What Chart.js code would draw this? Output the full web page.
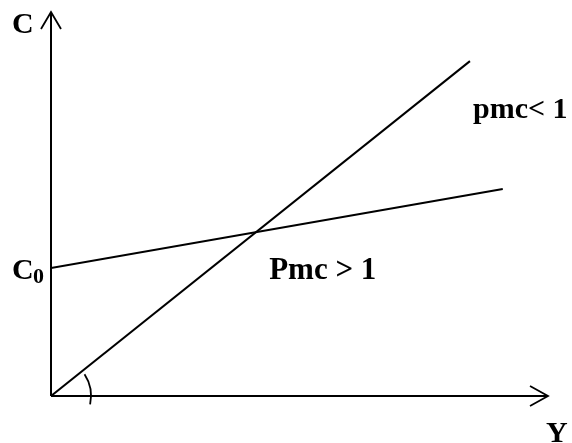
<!DOCTYPE html>
<html>
<head>
<meta charset="utf-8">
<script src="https://cdn.jsdelivr.net/npm/chart.js@4"></script>
<style>
  html, body { margin: 0; padding: 0; background: #fff; }
  #wrap { width: 572px; height: 443px; }
</style>
</head>
<body>
<div id="wrap"><canvas id="grafico"></canvas></div>
<script>
// Y values (income) and C values (consumption)
let rendaReta45 = [0, 8.43];
let consumoReta45 = [0, 8.72];
let rendaConsumo = [0, 9.09];
let consumoLinha = [3.33, 5.39];

// Texts
let rotuloEixoY = "C";
let rotuloEixoX = "Y";
let rotuloC0 = "C";
let rotuloC0Sub = "0";
let rotuloMenor = "pmc< 1";
let rotuloMaior = "Pmc > 1";

function montarPontos(xs, ys) {
  return xs.map((x, i) => ({ x: x, y: ys[i] }));
}

// plugin to draw the axes with arrows, the angle arc and the labels
const eixosSetas = {
  id: "eixosSetas",
  afterDatasetsDraw(chart) {
    const ctx = chart.ctx;
    const a = chart.chartArea;
    const sx = chart.scales.x;
    const sy = chart.scales.y;
    const ox = sx.getPixelForValue(0);
    const oy = sy.getPixelForValue(0);

    ctx.save();
    ctx.strokeStyle = "#000";
    ctx.lineWidth = 2;
    ctx.lineCap = "butt";

    // axes
    ctx.beginPath();
    ctx.moveTo(ox, oy);
    ctx.lineTo(ox, a.top);
    ctx.moveTo(ox, oy);
    ctx.lineTo(a.right, oy);
    ctx.stroke();

    // arrow heads
    ctx.lineWidth = 1.8;
    ctx.beginPath();
    ctx.moveTo(ox - 10, a.top + 17);
    ctx.lineTo(ox, a.top);
    ctx.lineTo(ox + 10, a.top + 17);
    ctx.moveTo(a.right - 18, oy - 10);
    ctx.lineTo(a.right, oy);
    ctx.lineTo(a.right - 18, oy + 10);
    ctx.stroke();

    // angle arc
    ctx.lineWidth = 1.8;
    ctx.beginPath();
    ctx.arc(ox, oy, 40, (-33 * Math.PI) / 180, (12 * Math.PI) / 180);
    ctx.stroke();

    // labels
    ctx.fillStyle = "#000";
    ctx.textAlign = "left";
    ctx.textBaseline = "alphabetic";
    ctx.font = "bold 30px 'Liberation Serif', 'Times New Roman', serif";
    ctx.fillText(rotuloEixoY, ox - 39, a.top + 21);
    ctx.fillText(rotuloEixoX, a.right - 2, oy + 46);

    const yC0 = sy.getPixelForValue(consumoLinha[0]);
    ctx.fillText(rotuloC0, ox - 39, yC0 + 11);
    ctx.font = "bold 22px 'Liberation Serif', 'Times New Roman', serif";
    ctx.fillText(rotuloC0Sub, ox - 18, yC0 + 15);

    ctx.font = "bold 30px 'Liberation Serif', 'Times New Roman', serif";
    ctx.fillText(rotuloMenor, sx.getPixelForValue(8.49), sy.getPixelForValue(7.23));
    ctx.font = "bold 31px 'Liberation Serif', 'Times New Roman', serif";
    ctx.fillText(rotuloMaior, sx.getPixelForValue(4.39), sy.getPixelForValue(3.04));
    ctx.restore();
  },
};

new Chart(document.getElementById("grafico"), {
  type: "scatter",
  data: {
    datasets: [
      {
        label: "45",
        data: montarPontos(rendaReta45, consumoReta45),
        showLine: true,
        borderColor: "#000",
        borderWidth: 2,
        pointRadius: 0,
      },
      {
        label: "C",
        data: montarPontos(rendaConsumo, consumoLinha),
        showLine: true,
        borderColor: "#000",
        borderWidth: 2,
        pointRadius: 0,
      },
    ],
  },
  options: {
    responsive: true,
    maintainAspectRatio: false,
    animation: false,
    layout: {
      padding: { left: 51, top: 12, right: 24, bottom: 47 },
    },
    plugins: {
      legend: { display: false },
      tooltip: { enabled: false },
    },
    scales: {
      x: { type: "linear", min: 0, max: 10, display: false },
      y: { type: "linear", min: 0, max: 10, display: false },
    },
  },
  plugins: [eixosSetas],
});
</script>
</body>
</html>
